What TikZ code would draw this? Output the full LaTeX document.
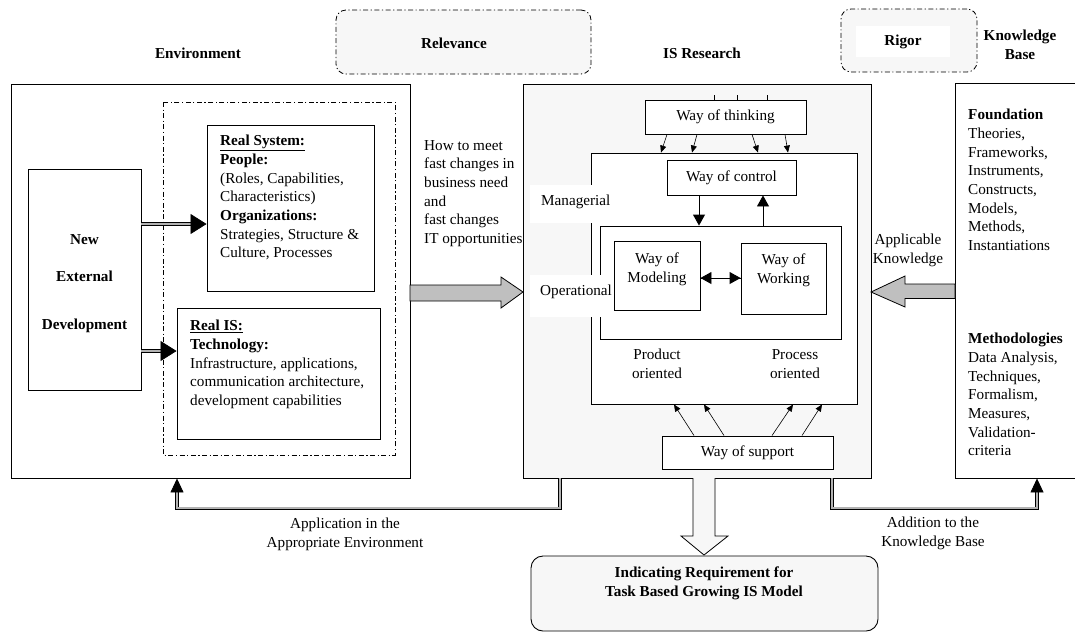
\documentclass[tikz,border=0pt]{standalone}
\usepackage{fontspec}
\setmainfont{Liberation Serif}
\usetikzlibrary{arrows.meta}
\tikzset{
  box/.style={draw,line width=0.9pt,fill=white,inner sep=0pt},
  dashbox/.style={draw,line width=0.8pt,fill=black!3,rounded corners=10pt,inner sep=0pt,
    dash pattern=on 5pt off 2.5pt on 1.2pt off 2.5pt},
  bigarrow/.style={draw,line width=0.8pt,fill=black!25},
  thinarrow/.style={-{Triangle[length=7pt,width=6pt]},line width=0.6pt},
  fatarrow/.style={-{Triangle[length=11pt,width=12pt]},line width=0.9pt},
  dblarrow/.style={double=black!30,double distance=2pt,line width=0.7pt,
    -{Triangle[length=16pt,width=20pt]}},
  fbarrow/.style={dblarrow,-{Triangle[length=14pt,width=13pt]}},
  heading/.style={font=\fontsize{15.2}{18.7}\selectfont\bfseries},
  txt/.style={align=left,inner sep=0pt,anchor=north west},
}
\begin{document}
\begin{tikzpicture}[x=1pt,y=-1pt,font=\fontsize{15.2}{18.7}\selectfont]
		\useasboundingbox (0,0) rectangle (1075,633);
		\clip (0,0) rectangle (1075,633);
		% headings
		\node[heading] (envlbl) at (198,53) {Environment};
		\node[dashbox,minimum width=255,minimum height=64] (relev) at (463.5,42) {};
		\node[heading] at (454,43) {Relevance};
		\node[heading] (islbl) at (702,53) {IS Research};
		\node[dashbox,minimum width=136,minimum height=63] (rigor) at (909,40.5) {};
		\node[heading,fill=white,minimum width=94,minimum height=31,inner sep=0pt] at (903,41.5) {Rigor};
		\node[heading,align=center] (kblbl) at (1020,45) {Knowledge\\Base};
		% main boxes
		\node[box,minimum width=399,minimum height=394] (env) at (210.5,281) {};
		\node[box,fill=black!3,minimum width=348,minimum height=394] (isr) at (697,281) {};
		\node[box,minimum width=135,minimum height=395] (know) at (1022.5,280.5) {};
		% environment
		\node[box,minimum width=113,minimum height=221] (ned) at (84.5,279.5) {};
		\node[heading,align=center,anchor=north,inner sep=0pt] at (84.5,234)
			{New\\[19pt]External\\[29pt]Development};
		\draw[line width=0.8pt,dash pattern=on 5pt off 2.5pt on 1.2pt off 2.5pt] (163,102) rectangle (395,455);
		\node[box,minimum width=167,minimum height=166] (realsys) at (290.5,208) {};
		\node[txt] at (220,135) {\underline{\textbf{Real System:}}\\\textbf{People:}\\(Roles, Capabilities,\\Characteristics)\\\textbf{Organizations:}\\Strategies, Structure \&\\Culture, Processes};
		\node[box,minimum width=203,minimum height=131] (realis) at (278.5,373.5) {};
		\node[txt] at (190,320) {\underline{\textbf{Real IS:}}\\\textbf{Technology:}\\Infrastructure, applications,\\communication architecture,\\development capabilities};
		\coordinate (ned1) at ([yshift=55.5pt]ned.east);
		\coordinate (ned2) at ([yshift=-71.5pt]ned.east);
		\draw[dblarrow] (ned1) -- (realsys.west |- ned1);
		\draw[dblarrow] (ned2) -- (realis.west |- ned2);
		\node[txt] at (424,140) {How to meet\\fast changes in\\business need\\and\\fast changes\\IT opportunities};
		% IS research
		\node[box,minimum width=266,minimum height=251] (mgr) at (724,278.5) {};
		\node[box,minimum width=161,minimum height=34] (think) at (725.5,117) {Way of thinking};
		\node[box,minimum width=129,minimum height=35] (ctrl) at (731.5,177.5) {Way of control};
		\node[box,minimum width=241,minimum height=113] (oper) at (720.5,282.5) {};
		\node[box,minimum width=86,minimum height=69] (model) at (657,275.5) {};
		\node[align=center,inner sep=0pt] at ([yshift=6.5pt]model.center) {Way of\\Modeling};
		\node[box,minimum width=85,minimum height=71] (work) at (783.5,278.5) {};
		\node[align=center,inner sep=0pt] at ([yshift=8.5pt]work.center) {Way of\\Working};
		\node[box,minimum width=171,minimum height=33] (support) at (747.5,452.5) {Way of support};
		\fill[white] (530,185) rectangle (593,223);
		\node[anchor=west,inner sep=0pt] (mgrlbl) at (541,202) {Managerial};
		\fill[white] (530,275) rectangle (606,317);
		\node[anchor=west,inner sep=0pt] (operlbl) at (540,292) {Operational};
		\coordinate (mw) at (0,278);
		\draw[fatarrow] (model.east |- mw) -- (work.west |- mw);
		\draw[fatarrow] (work.west |- mw) -- (model.east |- mw);
		\draw[fatarrow] ([xshift=-32.5pt]ctrl.south) -- ([xshift=-32.5pt]ctrl.south |- oper.north);
		\draw[fatarrow] ([xshift=31.5pt]ctrl.south |- oper.north) -- ([xshift=31.5pt]ctrl.south);
		\draw[thinarrow] ([xshift=-58.5pt]think.south) -- ([xshift=-63pt]mgr.north);
		\draw[thinarrow] ([xshift=-28.5pt]think.south) -- ([xshift=-32pt]mgr.north);
		\draw[thinarrow] ([xshift=26.5pt]think.south) -- ([xshift=34pt]mgr.north);
		\draw[thinarrow] ([xshift=59.5pt]think.south) -- ([xshift=64pt]mgr.north);
		\foreach \dx in {-11.5,11.5,41.5}
			\draw[line width=0.6pt] ([xshift=\dx pt]think.north) -- ++(0,-5);
		\draw[thinarrow] ([xshift=-53.5pt]support.north) -- ([xshift=-50pt]mgr.south);
		\draw[thinarrow] ([xshift=-23.5pt]support.north) -- ([xshift=-20pt]mgr.south);
		\draw[thinarrow] ([xshift=24.5pt]support.north) -- ([xshift=69pt]mgr.south);
		\draw[thinarrow] ([xshift=54.5pt]support.north) -- ([xshift=98pt]mgr.south);
		\node[align=center] at (657,364) {Product\\oriented};
		\node[align=center] at (795,364) {Process\\oriented};
		% knowledge base
		\node[txt] at (968,109) {\textbf{Foundation}\\Theories,\\Frameworks,\\Instruments,\\Constructs,\\Models,\\Methods,\\Instantiations};
		\node[txt] at (968,333) {\textbf{Methodologies}\\Data Analysis,\\Techniques,\\Formalism,\\Measures,\\Validation-\\criteria};
		\node[align=center] at (908,250.5) {Applicable\\Knowledge};
		% big arrows
		\draw[bigarrow] (410,285) -- (501,285) -- (501,277) -- (523,292) -- (501,308) -- (501,301) -- (410,301) -- cycle;
		\draw[bigarrow] (955,284) -- (905,284) -- (905,276) -- (871,292) -- (905,307) -- (905,298.5) -- (955,298.5) -- cycle;
		\draw[bigarrow,fill=black!3] (693,478) -- (693,536) -- (681,536) -- (704,555) -- (728,536) -- (715,536) -- (715,478);
		% feedback
		\coordinate (fbl) at ([xshift=-137pt]isr.south);
		\coordinate (fbr) at ([xshift=135pt]isr.south);
		\draw[fbarrow] (fbl) -- ++(0,30) -| ([xshift=-33.5pt]env.south);
		\draw[fbarrow] (fbr) -- ++(0,30) -| ([xshift=14.5pt]know.south);
		\node[align=center] at (345,534.5) {Application in the\\Appropriate Environment};
		\node[align=center] at (933,533.5) {Addition to the\\Knowledge Base};
		% result
		\node[box,fill=black!3,rounded corners=12pt,minimum width=347,minimum height=75] (result) at (704.5,593.5) {};
		\node[heading,align=center] at (704,583) {Indicating Requirement for\\Task Based Growing IS Model};
	\end{tikzpicture}
\end{document}
